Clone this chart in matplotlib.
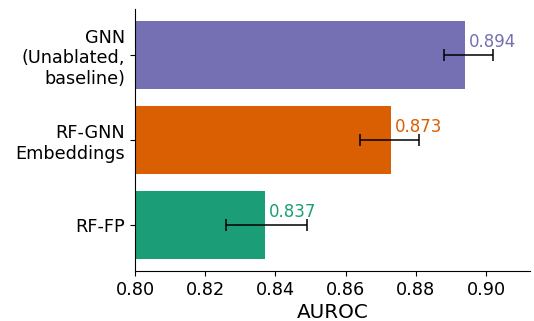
import matplotlib
matplotlib.use('Agg')
import matplotlib.pyplot as plt

# Dados
modelos = ['GNN\n(Unablated,\nbaseline)', 'RF-GNN\nEmbeddings', 'RF-FP']
auroc = [0.894, 0.873, 0.837]
erro_baixo = [0.006, 0.009, 0.011]
erro_alto = [0.008, 0.008, 0.012]
cores = ['#7570b3', '#d95f02', '#1b9e77']

fig = plt.figure(figsize=(5.34, 3.21), dpi=100)
ax = fig.add_axes([0.2528, 0.156, 0.7397, 0.816])

pos = range(len(modelos))
ax.barh(pos, auroc, height=0.8, color=cores)
ax.errorbar(auroc, pos, xerr=[erro_baixo, erro_alto], fmt='none',
            ecolor='black', elinewidth=1.1, capsize=4.5, capthick=1.1)

for i, v in enumerate(auroc):
    ax.annotate(f'{v:.3f}', xy=(v, i), xytext=(2.9, 9.6),
                textcoords='offset points', ha='left', va='center',
                color=cores[i], fontsize=12)

ax.set_yticks(list(pos))
ax.set_yticklabels(modelos, fontsize=12.7, ha='right', multialignment='right')
ax.invert_yaxis()
ax.set_xlim(0.80, 0.9125)
ax.set_xticks([0.80, 0.82, 0.84, 0.86, 0.88, 0.90])
ax.tick_params(axis='x', labelsize=12.7)
ax.set_xlabel('AUROC', fontsize=14.4, labelpad=3)

ax.spines['top'].set_visible(False)
ax.spines['right'].set_visible(False)

fig.savefig('out.png', dpi=100)
